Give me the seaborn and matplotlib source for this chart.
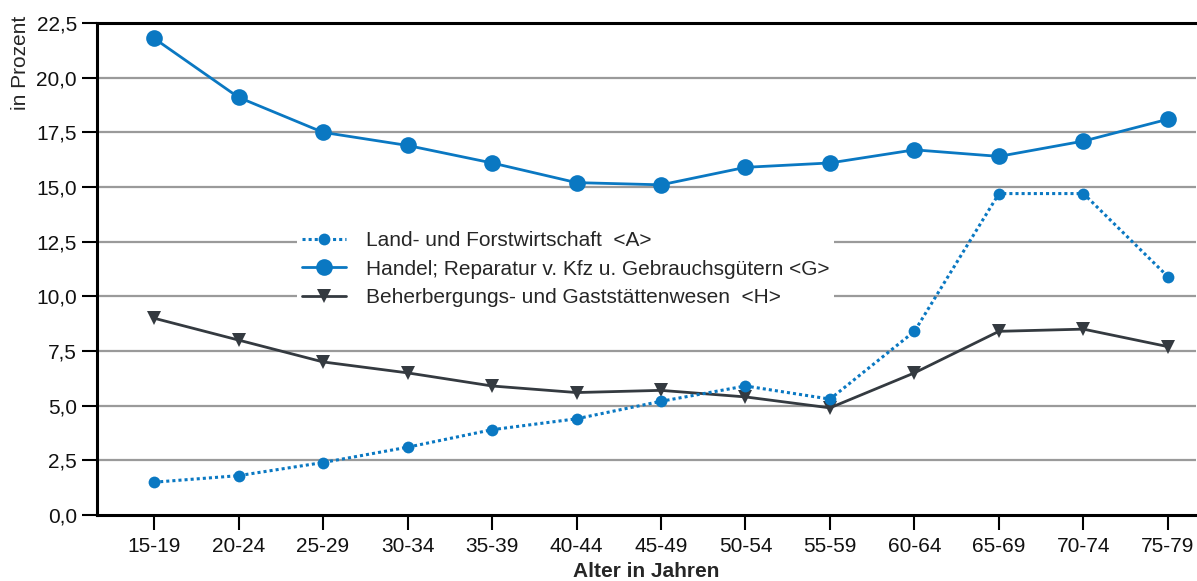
import matplotlib
matplotlib.use("Agg")
import matplotlib.pyplot as plt
import seaborn as sns
import pandas as pd

age_groups = ["15-19", "20-24", "25-29", "30-34", "35-39", "40-44", "45-49",
              "50-54", "55-59", "60-64", "65-69", "70-74", "75-79"]
land_a = [1.5, 1.8, 2.4, 3.1, 3.9, 4.4, 5.2, 5.9, 5.3, 8.4, 14.7, 14.7, 10.9]
handel_g = [21.8, 19.1, 17.5, 16.9, 16.1, 15.2, 15.1, 15.9, 16.1, 16.7, 16.4, 17.1, 18.1]
gast_h = [9.0, 8.0, 7.0, 6.5, 5.9, 5.6, 5.7, 5.4, 4.9, 6.5, 8.4, 8.5, 7.7]
series_names = ["Land- und Forstwirtschaft  <A>",
                "Handel; Reparatur v. Kfz u. Gebrauchsgütern <G>",
                "Beherbergungs- und Gaststättenwesen  <H>"]
yticks = [0, 2.5, 5, 7.5, 10, 12.5, 15, 17.5, 20, 22.5]

sns.set_theme(style="white")
plt.rcParams['font.family'] = ['Liberation Sans', 'DejaVu Sans']

blue = "#0a78c2"
dark = "#343a40"

fig = plt.figure(figsize=(11.97, 5.81), dpi=100)
ax = fig.add_axes([0.081, 0.1136, 0.918, 0.8468])

df = pd.DataFrame({"Alter": age_groups, "A": land_a, "G": handel_g, "H": gast_h})

for y in yticks[1:-1]:
    ax.axhline(y, color="#9a9a9a", lw=1.6, zorder=0)

sns.lineplot(data=df, x="Alter", y="A", ax=ax, color=blue, lw=2.2,
             linestyle=(0, (1, 1)), marker="o", markersize=8.5,
             markeredgewidth=0, sort=False, label=series_names[0], zorder=3)
sns.lineplot(data=df, x="Alter", y="G", ax=ax, color=blue, lw=2.0,
             marker="o", markersize=12, markeredgewidth=0, sort=False,
             label=series_names[1], zorder=4)
sns.lineplot(data=df, x="Alter", y="H", ax=ax, color=dark, lw=2.0,
             marker="v", markersize=10.5, markeredgewidth=0, sort=False,
             label=series_names[2], zorder=2)

ax.set_ylim(0, 22.5)
ax.set_xlim(-0.676, 12.33)
ax.set_yticks(yticks)
ax.set_yticklabels([f"{v:.1f}".replace(".", ",") for v in yticks])

ax.spines["right"].set_visible(False)
for s in ["left", "bottom", "top"]:
    ax.spines[s].set_color("black")
    ax.spines[s].set_linewidth(2.2)

ax.tick_params(axis="both", which="major", direction="out", length=10.5,
               width=1.5, color="black", labelsize=15, labelcolor="#111111",
               left=True, bottom=True, pad=4)
ax.tick_params(axis="x", pad=5.5)

ax.set_xlabel("Alter in Jahren", fontsize=15, fontweight="bold", labelpad=4.5)
ax.set_ylabel("in Prozent", fontsize=15)
ax.yaxis.set_label_coords(-0.061, 0.919)

leg = ax.legend(loc="upper left", bbox_to_anchor=(0.182, 0.587), frameon=True,
                fancybox=False, framealpha=1, edgecolor="white",
                fontsize=15, handlelength=2.1, labelspacing=0.45,
                borderpad=0.25, handletextpad=0.95, borderaxespad=0)
leg.get_frame().set_linewidth(0)
leg.set_zorder(5)

fig.savefig("out.png", dpi=100)
